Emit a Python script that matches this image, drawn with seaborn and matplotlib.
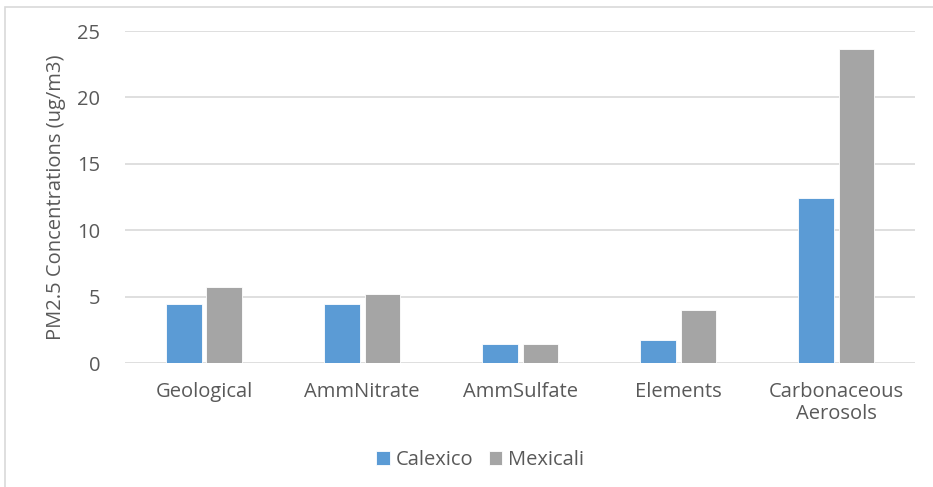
import pandas as pd
import matplotlib.pyplot as plt
import seaborn as sns
from matplotlib.patches import Rectangle

# values
categories = ['Geological', 'AmmNitrate', 'AmmSulfate', 'Elements', 'Carbonaceous\nAerosols']
calexico = [4.45, 4.45, 1.45, 1.7, 12.45]
mexicali = [5.75, 5.2, 1.45, 4.0, 23.65]
sites = ['Calexico', 'Mexicali']

df = pd.DataFrame({
    'Component': categories * 2,
    'Site': [sites[0]] * len(categories) + [sites[1]] * len(categories),
    'Value': calexico + mexicali,
})

sns.set_style("white")
plt.rcParams['font.family'] = ['Open Sans', 'DejaVu Sans']
text_color = '#595959'

fig = plt.figure(figsize=(9.33, 4.87), dpi=100)
ax = fig.add_axes([0.134, 0.2546, 0.847, 0.6817])

sns.barplot(data=df, x='Component', y='Value', hue='Site',
            palette=['#5B9BD5', '#A5A5A5'], saturation=1, width=0.51, gap=0.12,
            edgecolor='white', linewidth=0.6, ax=ax, zorder=3)

ax.set_ylim(0, 25)
ax.set_yticks(range(0, 26, 5))
ax.yaxis.grid(True, color='#D9D9D9', linewidth=1.2, zorder=0)
ax.set_axisbelow(True)
for s in ax.spines.values():
    s.set_visible(False)
ax.tick_params(axis='both', length=0, labelsize=14.5, colors=text_color)
ax.tick_params(axis='y', pad=18)
ax.tick_params(axis='x', pad=14)
ax.set_xlabel('')
ax.set_ylabel('PM2.5 Concentrations (ug/m3)', fontsize=14.5, color=text_color, labelpad=8)
for lbl in ax.get_xticklabels():
    lbl.set_linespacing(1.1)

leg = ax.legend(loc='center', bbox_to_anchor=(0.515, 0.055), bbox_transform=fig.transFigure,
                ncol=2, frameon=False, fontsize=14.5, handlelength=0.65, handleheight=0.65,
                handletextpad=0.3, columnspacing=0.8)
for t in leg.get_texts():
    t.set_color(text_color)

# light chart-area border like the spreadsheet export
fig.patches.append(Rectangle((0.0055, -0.02), 1.1, 1.006, transform=fig.transFigure,
                             fill=False, edgecolor='#D9D9D9', linewidth=1.2))

plt.savefig('out.png', dpi=100)
